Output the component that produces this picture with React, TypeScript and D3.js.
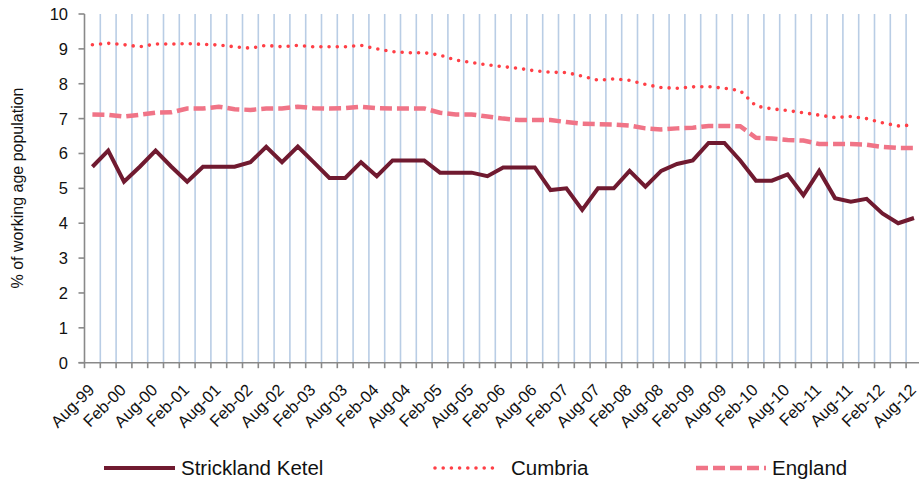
import React from 'react';
import * as d3 from 'd3';

const categories = [
  'Aug-99','Nov-99','Feb-00','May-00','Aug-00','Nov-00','Feb-01','May-01','Aug-01','Nov-01',
  'Feb-02','May-02','Aug-02','Nov-02','Feb-03','May-03','Aug-03','Nov-03','Feb-04','May-04',
  'Aug-04','Nov-04','Feb-05','May-05','Aug-05','Nov-05','Feb-06','May-06','Aug-06','Nov-06',
  'Feb-07','May-07','Aug-07','Nov-07','Feb-08','May-08','Aug-08','Nov-08','Feb-09','May-09',
  'Aug-09','Nov-09','Feb-10','May-10','Aug-10','Nov-10','Feb-11','May-11','Aug-11','Nov-11',
  'Feb-12','May-12','Aug-12'
];

const strickland = [
  5.62, 6.08, 5.19, 5.62, 6.08, 5.62, 5.19, 5.62, 5.62, 5.62,
  5.75, 6.19, 5.75, 6.2, 5.75, 5.3, 5.3, 5.75, 5.35, 5.8,
  5.8, 5.8, 5.45, 5.45, 5.45, 5.35, 5.6, 5.6, 5.6, 4.95,
  5.0, 4.38, 5.0, 5.0, 5.5, 5.05, 5.5, 5.7, 5.8, 6.3,
  6.3, 5.8, 5.22, 5.22, 5.4, 4.8, 5.5, 4.72, 4.62, 4.7,
  4.28, 4.0, 4.15
];

const cumbria = [
  9.12, 9.16, 9.12, 9.06, 9.14, 9.14, 9.15, 9.13, 9.11, 9.06,
  9.02, 9.1, 9.06, 9.1, 9.06, 9.06, 9.06, 9.1, 9.0, 8.92,
  8.89, 8.89, 8.82, 8.68, 8.61, 8.54, 8.49, 8.44, 8.37, 8.33,
  8.32, 8.22, 8.1, 8.14, 8.1, 7.98, 7.89, 7.87, 7.91, 7.92,
  7.87, 7.8, 7.36, 7.28, 7.23, 7.17, 7.1, 7.03, 7.06, 7.0,
  6.88, 6.79, 6.82
];

const england = [
  7.12, 7.11, 7.06, 7.11, 7.17, 7.18, 7.29, 7.29, 7.34, 7.27,
  7.25, 7.29, 7.29, 7.34, 7.3, 7.29, 7.3, 7.34, 7.3, 7.29,
  7.29, 7.29, 7.17, 7.12, 7.12, 7.06, 7.0, 6.96, 6.96, 6.96,
  6.9, 6.85, 6.84, 6.83, 6.8, 6.72, 6.69, 6.72, 6.74, 6.79,
  6.79, 6.78, 6.45, 6.43, 6.39, 6.37, 6.27, 6.27, 6.27, 6.25,
  6.19, 6.16, 6.16
];

const yTicks = [0, 1, 2, 3, 4, 5, 6, 7, 8, 9, 10];

const seriesNames = ['Strickland Ketel', 'Cumbria', 'England'];

const FONT = '"Liberation Sans", Arial, sans-serif';

export default function App() {
  const W = 919;
  const H = 486;
  const x0 = 84.5;
  const step = 15.8;
  const x = d3
    .scaleBand<string>()
    .domain(categories)
    .range([x0, x0 + step * categories.length])
    .padding(0);
  const y = d3.scaleLinear().domain([0, 10]).range([362.7, 14]);
  const bw = x.bandwidth();
  const cx = (i: number) => (x(categories[i]) as number) + bw / 2;
  const lineGen = d3
    .line<number>()
    .x((_, i) => cx(i))
    .y((d) => y(d));

  const boundaries = d3.range(categories.length + 1).map((k) => x0 + k * bw);
  const axisColor = '#898989';
  const gridColor = '#B9CDE5';

  const colS = '#701A30';
  const colC = '#FF3F46';
  const colE = '#F07487';

  return (
    <svg
      width={W}
      height={H}
      style={{ position: 'absolute', left: 0, top: 0, background: '#fff' }}
      fontFamily={FONT}
    >
      <rect x={0} y={0} width={W} height={H} fill="#fff" />
      {boundaries.slice(1, categories.length).map((bx, k) => (
        <line key={'g' + k} x1={bx} x2={bx} y1={y(10)} y2={y(0)} stroke={gridColor} strokeWidth={1.6} />
      ))}
      <line x1={x0} x2={x0} y1={y(10)} y2={y(0)} stroke={axisColor} strokeWidth={1.6} />
      {yTicks.map((t) => (
        <g key={'yt' + t}>
          <line x1={x0 - 6} x2={x0} y1={y(t)} y2={y(t)} stroke={axisColor} strokeWidth={1.6} />
          <text x={68} y={y(t)} dy="0.36em" textAnchor="end" fontSize={16.5} fill="#111">
            {t}
          </text>
        </g>
      ))}
      <line x1={x0 - 6} x2={boundaries[boundaries.length - 1]} y1={y(0)} y2={y(0)} stroke={axisColor} strokeWidth={1.6} />
      {boundaries.map((bx, k) => (
        <line key={'xt' + k} x1={bx} x2={bx} y1={y(0)} y2={y(0) + 5.5} stroke={axisColor} strokeWidth={1.6} />
      ))}
      {categories.map((c, i) =>
        i % 2 === 0 ? (
          <text
            key={'xl' + i}
            transform={`translate(${cx(i) + 3},${391}) rotate(-45)`}
            textAnchor="end"
            fontSize={16.5}
            fill="#111"
          >
            {c}
          </text>
        ) : null
      )}
      <text
        transform={`translate(${23},${188}) rotate(-90)`}
        textAnchor="middle"
        fontSize={16}
        fill="#111"
      >
        % of working age population
      </text>
      <path d={lineGen(england) || ''} fill="none" stroke={colE} strokeWidth={4.5} strokeDasharray="12 5" />
      <path d={lineGen(cumbria) || ''} fill="none" stroke={colC} strokeWidth={3.6} strokeDasharray="0 8.2" strokeLinecap="round" />
      <path d={lineGen(strickland) || ''} fill="none" stroke={colS} strokeWidth={4} strokeLinejoin="miter" />
      <g>
        <line x1={104} x2={175} y1={468} y2={468} stroke={colS} strokeWidth={4} />
        <text x={181} y={475} fontSize={20.5} fill="#111">{seriesNames[0]}</text>
        <line x1={435} x2={495} y1={468} y2={468} stroke={colC} strokeWidth={3.6} strokeDasharray="0 8.2" strokeLinecap="round" />
        <text x={511} y={475} fontSize={20.5} fill="#111">{seriesNames[1]}</text>
        <line x1={696} x2={766} y1={468} y2={468} stroke={colE} strokeWidth={4.5} strokeDasharray="12 5" />
        <text x={772} y={475} fontSize={20.5} fill="#111">{seriesNames[2]}</text>
      </g>
    </svg>
  );
}
